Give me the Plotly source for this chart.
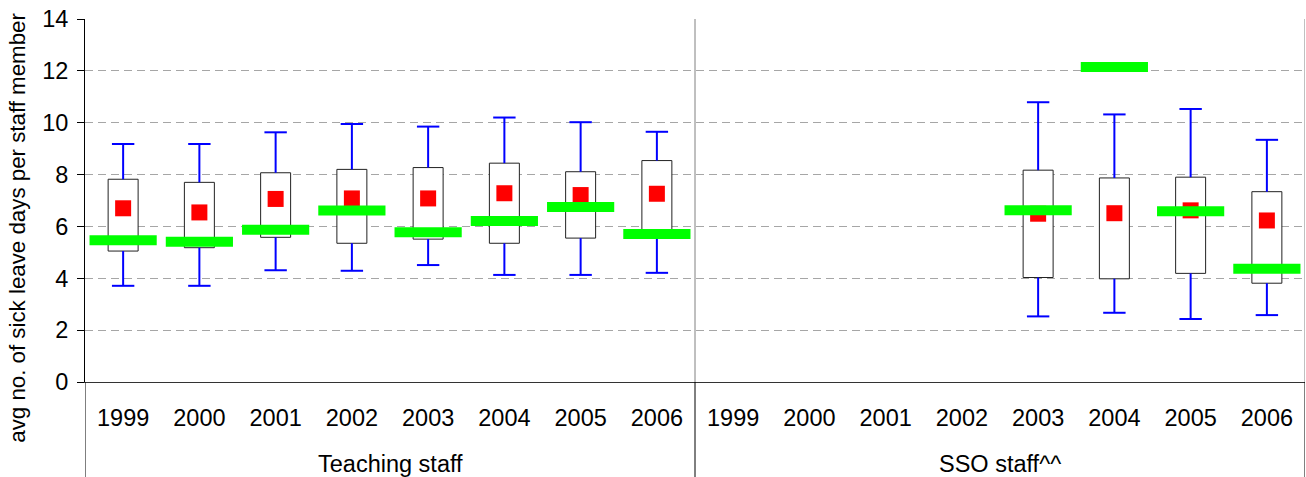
import numpy as np
import plotly.graph_objects as go

# ---- data -------------------------------------------------------------
years = ["1999", "2000", "2001", "2002", "2003", "2004", "2005", "2006"]
groups = ["Teaching staff", "SSO staff^^"]

# Teaching staff
teach_low = [3.71, 3.71, 4.31, 4.29, 4.51, 4.13, 4.13, 4.21]
teach_q1 = [5.05, 5.18, 5.58, 5.35, 5.51, 5.35, 5.55, 5.62]
teach_q3 = [7.82, 7.70, 8.07, 8.20, 8.27, 8.44, 8.11, 8.54]
teach_high = [9.18, 9.18, 9.63, 9.95, 9.85, 10.20, 10.02, 9.65]
teach_mean = [6.70, 6.54, 7.06, 7.08, 7.08, 7.28, 7.21, 7.26]
teach_school = [5.47, 5.41, 5.87, 6.61, 5.78, 6.21, 6.75, 5.71]

# SSO staff (no figures before 2003)
sso_low = [None, None, None, None, 2.53, 2.67, 2.43, 2.58]
sso_q1 = [None, None, None, None, 4.03, 3.98, 4.19, 3.81]
sso_q3 = [None, None, None, None, 8.17, 7.87, 7.90, 7.34]
sso_high = [None, None, None, None, 10.79, 10.32, 10.53, 9.34]
sso_mean = [None, None, None, None, 6.49, 6.51, 6.62, 6.23]
sso_school = [None, None, None, None, 6.62, 12.15, 6.59, 4.37]

# ---- combine both groups along one category axis -------------------
low = teach_low + sso_low
q1 = teach_q1 + sso_q1
q3 = teach_q3 + sso_q3
high = teach_high + sso_high
mean = teach_mean + sso_mean
school = teach_school + sso_school
labels = years + years

n = len(labels)
pos = np.arange(n) + 0.5
valid = [i for i in range(n) if q1[i] is not None]

FONT = "Liberation Sans, Arial, sans-serif"
BLUE = "#0000FF"
LABEL_SIZE = 23.5

fig = go.Figure()

# interquartile boxes
fig.add_trace(go.Bar(
    x=[pos[i] for i in valid],
    y=[q3[i] - q1[i] for i in valid],
    base=[q1[i] for i in valid],
    width=0.393,
    marker=dict(color="white", line=dict(color="#222222", width=1)),
    hoverinfo="skip", showlegend=False,
))

# whisker stems (top and bottom) as separated segments
wx, wy = [], []
for i in valid:
    wx += [pos[i], pos[i], None, pos[i], pos[i], None]
    wy += [q3[i], high[i], None, q1[i], low[i], None]
fig.add_trace(go.Scatter(
    x=wx, y=wy, mode="lines",
    line=dict(color=BLUE, width=2),
    hoverinfo="skip", showlegend=False,
))

# whisker caps
fig.add_trace(go.Scatter(
    x=[pos[i] for i in valid] * 2,
    y=[high[i] for i in valid] + [low[i] for i in valid],
    mode="markers",
    marker=dict(symbol="line-ew", size=16, color=BLUE,
                line=dict(color=BLUE, width=2)),
    hoverinfo="skip", showlegend=False,
))

# mean values (red squares)
fig.add_trace(go.Scatter(
    x=pos, y=mean, mode="markers", name="Mean",
    marker=dict(symbol="square", size=16, color="#FF0000",
                line=dict(width=0)),
    showlegend=False,
))

# school values (green bars)
fig.add_trace(go.Scatter(
    x=pos, y=school, mode="markers", name="School",
    marker=dict(symbol="line-ew", size=48, color="#00FF00",
                line=dict(color="#00FF00", width=10)),
    showlegend=False,
))

# group separators: grey inside the plot, black through the label band
bottom = -95 / 363
shapes = []
for xv in (8, 16):
    shapes.append(dict(type="line", xref="x", yref="y", x0=xv, x1=xv,
                       y0=0, y1=14, line=dict(color="#808080", width=1)))
for xv in (0, 8, 16):
    shapes.append(dict(type="line", xref="x", yref="paper", x0=xv, x1=xv,
                       y0=bottom, y1=0, line=dict(color="black", width=1)))

annotations = [
    dict(text=g, x=4 + 8 * k, xref="x", y=-0.226, yref="paper",
         showarrow=False, xanchor="center", yanchor="middle",
         font=dict(family=FONT, size=LABEL_SIZE, color="black"))
    for k, g in enumerate(groups)
]
annotations.append(dict(
    text="avg no. of sick leave days per staff member",
    x=-0.056, xref="paper", y=0.424, yref="paper", textangle=-90,
    showarrow=False, xanchor="center", yanchor="middle",
    font=dict(family=FONT, size=22.3, color="black"),
))

fig.update_layout(
    width=1306, height=477,
    margin=dict(l=85, r=1, t=19, b=95),
    plot_bgcolor="white", paper_bgcolor="white",
    shapes=shapes, annotations=annotations,
    font=dict(family=FONT, color="black"),
    xaxis=dict(
        range=[0, 16], tickvals=pos, ticktext=labels,
        showgrid=False, zeroline=False,
        showline=True, linecolor="#333333", linewidth=1,
        ticks="", ticklabelstandoff=15,
        tickfont=dict(family=FONT, size=LABEL_SIZE, color="black"),
    ),
    yaxis=dict(
        range=[0, 14], dtick=2, tick0=0,
        showgrid=True, gridcolor="#a6a6a6", gridwidth=1, griddash="8px,5px",
        zeroline=False, showline=True, linecolor="black", linewidth=1,
        ticks="outside", ticklen=7, tickcolor="black",
        ticklabelstandoff=4,
        tickfont=dict(family=FONT, size=LABEL_SIZE, color="black"),
    ),
)

fig.write_html("out.html")
